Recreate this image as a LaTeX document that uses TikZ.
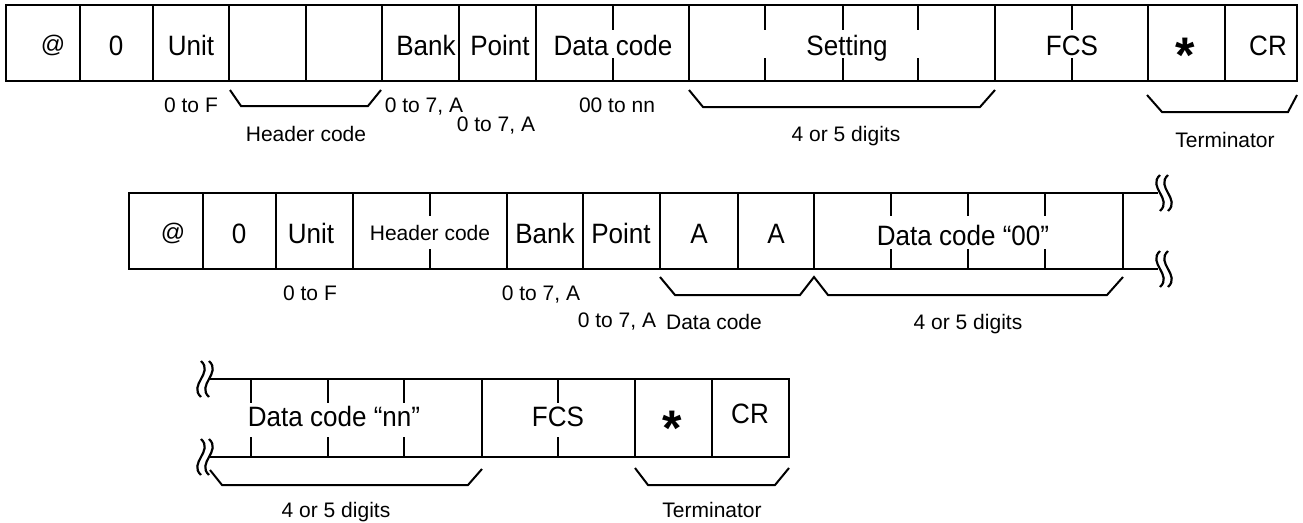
\documentclass[tikz,border=0pt]{standalone}
\usepackage{fontspec}
\setmainfont{Liberation Sans}
\newfontfamily\bigfont[FakeStretch=0.93]{Liberation Sans}
\newcommand\wavy[3]{\begin{scope}[shift={(#1,#2)},xscale=#3]
\foreach \d in {-4,4}{\draw[wv] (\d,-18) .. controls (\d-13,-6) and (\d+13,6) .. (\d,18);}
\end{scope}}
\begin{document}
\begin{tikzpicture}[x=1pt,y=-1pt,
  big/.style={font=\bigfont\fontsize{28}{32}\selectfont, inner sep=0pt, anchor=base},
  lab/.style={font=\fontsize{21}{25}\selectfont, inner sep=0pt, anchor=base},
  atsign/.style={font=\fontsize{24}{26}\selectfont, inner sep=0pt, anchor=center},
  star/.style={font=\fontsize{50}{50}\selectfont\bfseries, inner sep=0pt, anchor=base},
  ln/.style={line width=2.4pt},
  tk/.style={line width=2.4pt},
  br/.style={line width=2pt, line join=miter},
  wv/.style={line width=2.2pt},
]
\useasboundingbox (0,0) rectangle (1303,522);

% ---------------- Row 1 ----------------
\draw[ln] (6,5) rectangle (1297,81);
\foreach \x in {80,153,229,306,382,459,536,689,995,1148,1225}
  \draw[ln] (\x,5) -- (\x,81);
\foreach \x in {613,765,843,918,1072}{
  \draw[tk] (\x,5) -- (\x,30);
  \draw[tk] (\x,58) -- (\x,81);}

\node[atsign] (a1) at (53,45) {@};
\node[big] (z1) at (116,55) {0};
\node[big] (u1) at (191,55) {Unit};
\node[big] (b1) at (426,55) {Bank};
\node[big] (p1) at (500,55) {Point};
\node[big] (d1) at (613,55) {Data code};
\node[big] (s1) at (847,55) {Setting};
\node[big] (f1) at (1072,55) {FCS};
\node[star] (st1) at (1185,72) {*};
\node[big] (c1) at (1268,55) {CR};

\draw[br] (230,90) -- (241,106) -- (368,106) -- (381,90);
\draw[br] (689,90) -- (703,107) -- (980,107) -- (995,90);
\draw[br] (1147,95) -- (1162,112) -- (1288,112) -- (1297,95);

\node[lab] (l1a) at (191,112) {0 to F};
\node[lab] (l1b) at (424,112) {0 to 7, A};
\node[lab] (l1c) at (306,141) {Header code};
\node[lab] (l1d) at (496,131) {0 to 7, A};
\node[lab] (l1e) at (617,112) {00 to nn};
\node[lab] (l1f) at (846,141) {4 or 5 digits};
\node[lab] (l1g) at (1225,147) {Terminator};

% ---------------- Row 2 ----------------
\draw[ln] (1158,193) -- (129,193) -- (129,269) -- (1158,269);
\foreach \x in {203,276,353,507,583,660,738,814,1123}
  \draw[ln] (\x,193) -- (\x,269);
\foreach \x in {430,891,968,1045}{
  \draw[tk] (\x,193) -- (\x,216);
  \draw[tk] (\x,249) -- (\x,269);}
\wavy{1164}{193}{1}
\wavy{1164}{269}{1}

\node[atsign] (a2) at (173,233) {@};
\node[big] (z2) at (239,243) {0};
\node[big] (u2) at (311,243) {Unit};
\node[lab] (h2) at (430,240) {Header code};
\node[big] (b2) at (545,243) {Bank};
\node[big] (p2) at (621,243) {Point};
\node[big] (aa2) at (699,243) {A};
\node[big] (ab2) at (776,243) {A};
\node[big] (d2) at (963,245) {Data code “00”};

\draw[br] (660,277) -- (675,295) -- (800,295) -- (814,277) -- (828,295) -- (1107,295) -- (1123,277);

\node[lab] (l2a) at (310,300) {0 to F};
\node[lab] (l2b) at (541,300) {0 to 7, A};
\node[lab] (l2c) at (617,327) {0 to 7, A};
\node[lab] (l2d) at (714,329) {Data code};
\node[lab] (l2e) at (968,329) {4 or 5 digits};

% ---------------- Row 3 ----------------
\draw[ln] (209,379) -- (789,379) -- (789,457) -- (209,457);
\foreach \x in {482,635,712}
  \draw[ln] (\x,379) -- (\x,457);
\foreach \x in {251,328,404,558}{
  \draw[tk] (\x,379) -- (\x,403);
  \draw[tk] (\x,437) -- (\x,457);}
\wavy{205}{379}{-1}
\wavy{205}{457}{-1}

\node[big] (d3) at (334,426) {Data code “nn”};
\node[big] (f3) at (558,426) {FCS};
\node[star] (st3) at (672,445) {*};
\node[big] (c3) at (750,423) {CR};

\draw[br] (210,470) -- (222,485) -- (468,485) -- (482,469);
\draw[br] (635,468) -- (648,485) -- (775,485) -- (789,468);

\node[lab] (l3a) at (336,517) {4 or 5 digits};
\node[lab] (l3b) at (712,517) {Terminator};
\end{tikzpicture}
\end{document}
